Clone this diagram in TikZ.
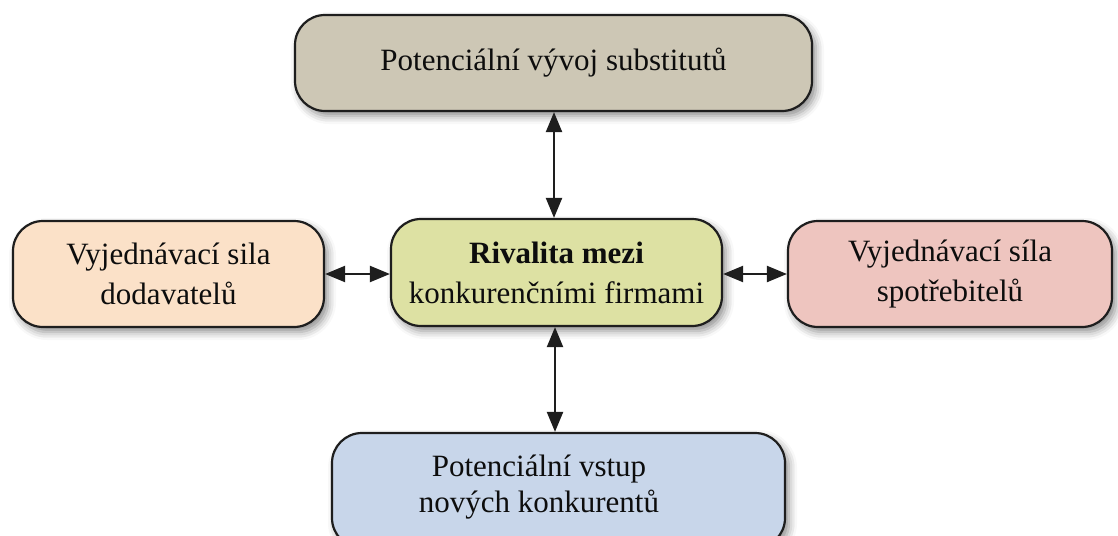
\documentclass[tikz,border=0pt]{standalone}
\usepackage{fontspec}
\setmainfont{Liberation Serif}
\usetikzlibrary{arrows.meta,shadows.blur}
\definecolor{cTop}{RGB}{205,199,181}
\definecolor{cLeft}{RGB}{251,225,200}
\definecolor{cMid}{RGB}{221,225,163}
\definecolor{cRight}{RGB}{238,197,191}
\definecolor{cBot}{RGB}{200,214,234}
\definecolor{cLine}{RGB}{30,30,30}
\begin{document}
\begin{tikzpicture}[x=1pt,y=-1pt,
  box/.style={draw=cLine, line width=2.2pt, rounded corners=30pt, inner sep=0pt,
    align=center, font=\fontsize{31}{40}\selectfont, text=black!95,
    blur shadow={shadow xshift=4pt, shadow yshift=-5pt, shadow blur radius=8pt, shadow opacity=45}},
  lbl/.style={align=center, font=\fontsize{31}{36}\selectfont, text=black!95, inner sep=0pt},
  link/.style={line width=2.2pt, draw=cLine,
    {Triangle[length=20pt,width=16pt]}-{Triangle[length=20pt,width=16pt]}}]
\useasboundingbox (0,0) rectangle (1118,535);
\node[box, fill=cTop, minimum width=517pt, minimum height=96pt] (top) at (553.5,63) {Potenciální vývoj substitutů};
\node[box, fill=cLeft, minimum width=311pt, minimum height=106pt] (left) at (168.5,274) {Vyjednávací sila\\dodavatelů};
\node[box, fill=cMid, minimum width=331pt, minimum height=107pt] (mid) at (556.5,272.5) {\textbf{Rivalita mezi}\\konkurenčními firmami};
\node[box, fill=cRight, minimum width=324pt, minimum height=106pt] (right) at (950,274) {Vyjednávací síla\\spotřebitelů};
\node[box, fill=cBot, minimum width=453pt, minimum height=115pt] (bot) at (558.5,490.5) {};
\node[lbl] (botl) at (539,487.5) {Potenciální vstup\\nových konkurentů};
\draw[link] (left.east) -- (left.east -| mid.west);
\draw[link] (mid.east |- right.west) -- (right.west);
\draw[link] (top.south -| 554,0) -- (mid.north -| 554,0);
\draw[link] (mid.south -| 555,0) -- (bot.north -| 555,0);
\end{tikzpicture}
\end{document}
